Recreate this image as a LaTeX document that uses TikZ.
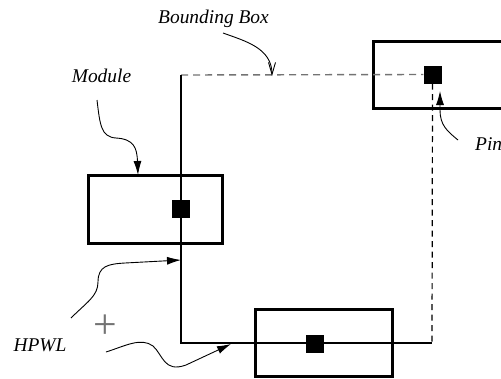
\documentclass[tikz,border=0pt]{standalone}
\usepackage{fontspec}
\setmainfont{Liberation Serif}
\usetikzlibrary{arrows.meta}
\begin{document}
\begin{tikzpicture}[x=1bp,y=-1bp,
  module/.style={draw=black,line width=3bp,fill=white},
  pinsq/.style={fill=black,inner sep=0pt,minimum width=18bp,minimum height=18bp},
  lbl/.style={font=\fontsize{19.5}{22}\selectfont\itshape,inner sep=0pt},
  net/.style={line width=1.4bp},
  bbox/.style={line width=1.4bp,draw=black!55,dash pattern=on 7bp off 5bp},
  netdash/.style={line width=1.2bp,dash pattern=on 6bp off 4.5bp},
  pointer/.style={line width=0.9bp,-{Latex[length=14bp,width=8bp]}},
  openpointer/.style={line width=0.9bp,-{Straight Barb[length=12bp,width=7bp,line width=0.9bp]}}]
\clip (0,0) rectangle (501,378);
\useasboundingbox (0,0) rectangle (501,378);

% modules
\draw[module] (88,175) rectangle (222,243);
\draw[module] (373,41) rectangle (515,108);
\draw[module] (255,309) rectangle (392,376);

% net corners
\coordinate (tl) at (181,75);
\coordinate (bl) at (181,343);
\coordinate (br) at (432,343);

% pins
\node[pinsq] (pa) at (180.5,209) {};
\node[pinsq] (pb) at (432.5,74.5) {};
\node[pinsq] (pc) at (315,343.5) {};

% net and its bounding box
\draw[bbox] (tl) -- (pb.west);
\draw[netdash] (pb.south) -- (br);
\draw[net] (tl) -- (bl) -- (br);

% labels
\node[lbl] (lbb) at (213.5,19) {Bounding Box};
\node[lbl] (lmod) at (101.5,76) {Module};
\node[lbl,anchor=west] (lpin) at (475,144) {Pin};
\node[lbl] (lhp) at (40,345) {HPWL};
\node[font=\fontsize{42}{42}\selectfont,text=black!55,inner sep=0pt] (plus) at (105,327) {+};

% pointer end points
\coordinate (bbs) at (223,33);
\coordinate (bbe) at (272,76);
\coordinate (mods) at (97,100);
\coordinate (mode) at (138,175);
\coordinate (pins) at (458,140);
\coordinate (pine) at (440,91);
\coordinate (h1s) at (71,318);
\coordinate (h1e) at (181,260);
\coordinate (h2s) at (106,352);
\coordinate (h2e) at (231,344);

% pointers
\draw[openpointer] (bbs) .. controls (245,41) and (272,48) .. (bbe);
\draw[pointer] (mods) .. controls (100,125) and (101,137) .. (116,138)
  .. controls (134,139) and (137,148) .. (mode);
\draw[pointer] (pins) .. controls (447,131) and (440,125) .. (440,110) -- (pine);
\draw[pointer] (h1s) .. controls (87,302) and (98,296) .. (98,282)
  .. controls (98,266) and (108,264) .. (125,263) -- (h1e);
\draw[pointer] (h2s) .. controls (125,346) and (141,337) .. (153,346)
  .. controls (163,355) and (164,373) .. (186,365) -- (h2e);
\end{tikzpicture}
\end{document}
